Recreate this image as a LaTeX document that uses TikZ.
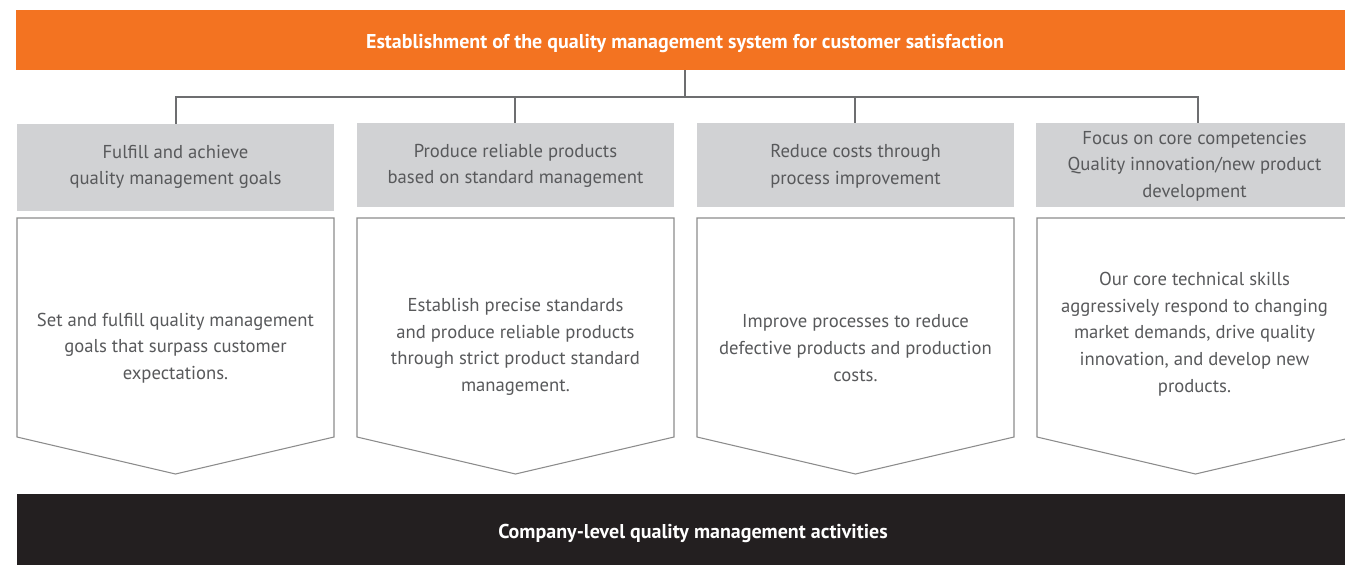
\documentclass[tikz,border=0pt]{standalone}
\usepackage{fontspec}
\setmainfont{PT Sans}
\definecolor{qorange}{HTML}{F37321}
\definecolor{qgray}{HTML}{D1D2D4}
\definecolor{qblack}{HTML}{231F20}
\definecolor{qtext}{HTML}{58595B}
\definecolor{qline}{HTML}{8C8C8C}
\definecolor{qconn}{HTML}{6D6E70}
\begin{document}
\begin{tikzpicture}[x=0.75pt,y=-0.75pt,
  bar/.style={draw=none,inner sep=0pt,font=\bfseries\fontsize{15}{18}\selectfont,text=white},
  graybox/.style={fill=qgray,draw=none,inner sep=0pt,minimum width=317*0.75pt},
  txt/.style={align=center,text=qtext,font=\fontsize{14}{20}\selectfont,inner sep=0pt},
  arrowbox/.style={draw=qline,line width=0.8pt,fill=white},
  conn/.style={draw=qconn,line width=0.8pt}]
\useasboundingbox (0,0) rectangle (1345,565);
\begin{scope}
\clip (0,0) rectangle (1345,565);
% top bar
\fill[qorange] (16,10) rectangle (1353,70);
\node[bar] (title) at (685,43.5) {Establishment of the quality management system for customer satisfaction};
\coordinate (tb) at (685,70);
% bottom bar
\fill[qblack] (17,494) rectangle (1353,565);
\node[bar] (bottom) at (693,533) {Company-level quality management activities};
% gray boxes
\node[graybox,minimum height=87*0.75pt] (g1) at (175.5,167.5) {};
\node[graybox,minimum height=84*0.75pt] (g2) at (515.5,165) {};
\node[graybox,minimum height=84*0.75pt] (g3) at (855.5,165) {};
\node[graybox,minimum height=84*0.75pt] (g4) at (1194.5,165) {};
\node[txt] (g1t) at (175.5,167) {Fulfill and achieve\\quality management goals};
\node[txt] (g2t) at (515.5,166) {Produce reliable products\\based on standard management};
\node[txt] (g3t) at (855.5,166) {Reduce costs through\\process improvement};
\node[txt] (g4t) at (1194.5,166) {Focus on core competencies\\Quality innovation/new product\\development};
% connectors
\coordinate (c1) at (176,97);
\coordinate (c2) at (515,97);
\coordinate (c3) at (855,97);
\coordinate (c4) at (1198,97);
\coordinate (cm) at (685,97);
\draw[conn] (tb) -- (cm);
\draw[conn] (c1 |- g1.north) -- (c1) -- (c4) -- (c4 |- g4.north);
\draw[conn] (c2) -- (c2 |- g2.north);
\draw[conn] (c3) -- (c3 |- g3.north);
% arrow boxes
\foreach \l/\r/\c in {17/334/175.5, 357/674/515.5, 697/1014/855.5, 1037/1354/1195.5}{
  \draw[arrowbox] (\l,218) -- (\r,218) -- (\r,437) -- (\c,474) -- (\l,437) -- cycle;
}
\node[txt] (a1) at (175.5,348) {Set and fulfill quality management\\goals that surpass customer\\expectations.};
\node[txt] (a2) at (515.5,347) {Establish precise standards\\and produce reliable products\\through strict product standard\\management.};
\node[txt] (a3) at (855.5,348) {Improve processes to reduce\\defective products and production\\costs.};
\node[txt] (a4) at (1194.5,334) {Our core technical skills\\aggressively respond to changing\\market demands, drive quality\\innovation, and develop new\\products.};
\end{scope}
\end{tikzpicture}
\end{document}
